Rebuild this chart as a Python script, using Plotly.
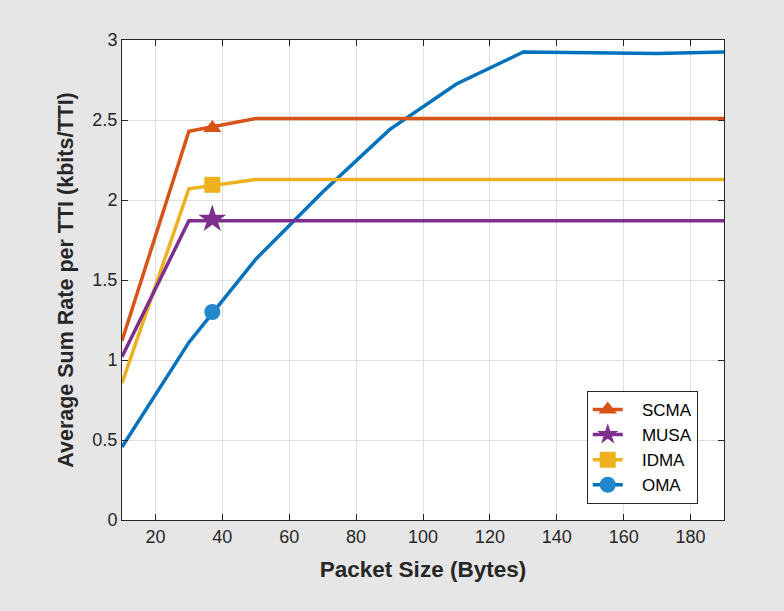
import plotly.graph_objects as go

# Packet size (Bytes) and average sum rate per TTI (kbits/TTI)
packet_size = [10, 30, 50, 70, 90, 110, 130, 150, 170, 190]
scma = [1.12, 2.43, 2.51, 2.51, 2.51, 2.51, 2.51, 2.51, 2.51, 2.51]
musa = [1.02, 1.87, 1.87, 1.87, 1.87, 1.87, 1.87, 1.87, 1.87, 1.87]
idma = [0.855, 2.07, 2.128, 2.128, 2.128, 2.128, 2.128, 2.128, 2.128, 2.128]
oma = [0.456, 1.11, 1.63, 2.05, 2.44, 2.725, 2.925, 2.92, 2.915, 2.925]

# single marker point per curve
marker_x = [37]
scma_mark = [2.45]
musa_mark = [1.88]
idma_mark = [2.095]
oma_mark = [1.30]

series = [
    ("SCMA", scma, scma_mark, "#D95319", "#D95319", "triangle-up"),
    ("MUSA", musa, musa_mark, "#7E2F8E", "#7E2F8E", "star"),
    ("IDMA", idma, idma_mark, "#EDB120", "#EDB120", "square"),
    ("OMA", oma, oma_mark, "#0072BD", "#2387CB", "circle"),
]

fig = go.Figure()

# lines (OMA drawn first so it sits beneath)
for name, ys, _, col, _, _ in reversed(series):
    fig.add_trace(go.Scatter(
        x=packet_size, y=ys, mode="lines", showlegend=False,
        line=dict(color=col, width=3.5), hoverinfo="skip"
    ))

for name, _, mk, col, mcol, sym in series:
    fig.add_trace(go.Scatter(
        x=marker_x, y=mk, mode="lines+markers", name="\u00a0\u00a0\u00a0" + name,
        line=dict(color=col, width=3.5),
        marker=dict(symbol=sym, size=16 if sym != "star" else 21, color=mcol,
                    line=dict(width=0))
    ))

axis_col = "#262626"
fig.update_layout(
    width=784, height=611,
    margin=dict(l=122, r=60, t=40, b=91),
    paper_bgcolor="#E6E6E6",
    plot_bgcolor="white",
    font=dict(family="Liberation Sans, Arial", size=18, color=axis_col),
    xaxis=dict(
        range=[10, 190], tick0=20, dtick=20,
        showgrid=True, gridcolor="#DFDFDF", gridwidth=1,
        showline=True, linecolor=axis_col, linewidth=1, mirror="ticks",
        ticks="inside", ticklen=6, tickcolor=axis_col, zeroline=False,
        title=dict(text="<b>Packet Size (Bytes)</b>", font=dict(size=22.5), standoff=15),
        tickfont=dict(size=18),
    ),
    yaxis=dict(
        range=[0, 3], dtick=0.5,
        showgrid=True, gridcolor="#DFDFDF", gridwidth=1,
        showline=True, linecolor=axis_col, linewidth=1, mirror="ticks",
        ticks="inside", ticklen=6, tickcolor=axis_col, zeroline=False,
        title=dict(text="<b>Average Sum Rate per TTI (kbits/TTI)</b>", font=dict(size=21.5), standoff=12),
        tickfont=dict(size=18),
    ),
    legend=dict(
        x=0.772, y=0.269, xanchor="left", yanchor="top",
        bgcolor="white", bordercolor=axis_col, borderwidth=1,
        font=dict(size=17, color="black"), tracegroupgap=0,
    ),
)

fig.write_html(
    "out.html",
    config={"displayModeBar": False},
    post_script="document.body.style.margin='0';document.body.style.background='#E6E6E6';",
)
